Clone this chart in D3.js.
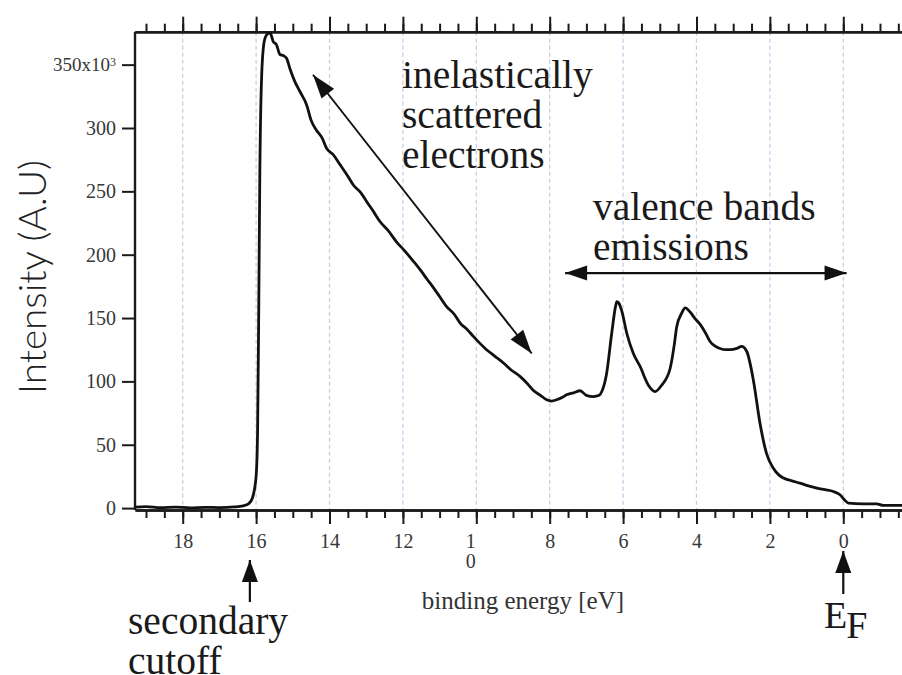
<!DOCTYPE html>
<html>
<head>
<meta charset="utf-8">
<script src="https://cdn.jsdelivr.net/npm/d3@7"></script>
<style>
  body { margin: 0; background: #fff; }
  svg { display: block; }
</style>
</head>
<body>
<div id="chart"></div>
<script>
// binding energy (eV) and intensity (x10^3)
let energy = [19.3, 19.0, 18.6, 18.2, 17.8, 17.4, 17.0, 16.6, 16.35, 16.2, 16.1, 16.0, 15.96, 15.93, 15.9,
  15.85, 15.78, 15.7, 15.62, 15.53, 15.45, 15.35, 15.25, 15.17, 15.08, 14.95, 14.81, 14.62, 14.5, 14.35,
  14.2, 14.08, 13.9, 13.71, 13.5, 13.35, 13.15, 12.99, 12.8, 12.62, 12.4, 12.17, 11.95, 11.72, 11.5,
  11.35, 11.17, 11.0, 10.81, 10.6, 10.44, 10.25, 10.08, 9.9, 9.72, 9.5, 9.26, 9.05, 8.81, 8.6,
  8.45, 8.25, 8.08, 7.95, 7.81, 7.65, 7.54, 7.35, 7.17, 7.0, 6.81, 6.65, 6.58, 6.45, 6.31,
  6.2, 6.17, 6.12, 6.04, 5.9, 5.72, 5.54, 5.31, 5.13, 4.95, 4.72, 4.6, 4.54, 4.4, 4.31,
  4.18, 4.05, 3.9, 3.75, 3.63, 3.5, 3.36, 3.2, 3.09, 2.9, 2.77, 2.63, 2.45, 2.27, 2.09,
  1.91, 1.75, 1.63, 1.4, 1.18, 0.95, 0.72, 0.5, 0.27, 0.09, -0.05, -0.14, -0.54, -0.91, -1.09, -1.6];
let intensity = [0.8, 1.2, 0.3, 0.8, 0.2, 0.6, 0.4, 0.9, 1.8, 3.5, 8, 25, 60, 150, 260,
  340, 368, 374, 375, 368, 366, 358, 357, 355, 347, 337, 329, 318, 306, 298,
  292, 284, 279, 271, 262, 255, 249, 242, 234, 226, 219, 210, 203, 195, 187,
  181, 174, 167, 159, 153, 146, 141, 135.5, 130, 125, 120, 114.5, 109, 104, 98,
  93, 89, 85.5, 84.5, 85.5, 87.5, 89.4, 91, 92.6, 89, 88, 89, 92, 106, 138,
  160, 163, 162, 156, 138, 122, 112, 97, 92, 97, 110, 130, 143, 154, 158,
  155, 150, 145, 138, 131.5, 128, 126, 125, 125, 126, 127.6, 123.6, 101, 67, 43,
  31.6, 26, 23.7, 21.5, 19.7, 17.5, 15.8, 14.5, 13.1, 10.5, 6, 3.9, 3.4, 3.4, 2.1, 2.1];

let xMajor = [18, 16, 14, 12, 10, 8, 6, 4, 2, 0];
let xMinor = d3.range(-1.5, 19.01, 0.5);
let yTicks = [0, 50, 100, 150, 200, 250, 300, 350];

let width = 902;
let height = 675;
let plot = {left: 135, right: 902, top: 31.7, bottom: 510};

let serif = "'Liberation Serif', 'Times New Roman', serif";

let svg = d3.select("#chart").append("svg")
  .attr("width", width)
  .attr("height", height);

let x = d3.scaleLinear().domain([19.3, -1.6]).range([plot.left, plot.right]);
let y = d3.scaleLinear().domain([-1.5, 376]).range([plot.bottom, plot.top]);

// dashed grid at major energies
svg.append("g")
  .selectAll("line")
  .data(xMajor)
  .join("line")
  .attr("x1", d => x(d))
  .attr("x2", d => x(d))
  .attr("y1", plot.top)
  .attr("y2", plot.bottom)
  .attr("stroke", "#c6c9e8")
  .attr("stroke-width", 1.2)
  .attr("stroke-dasharray", "4,3");

function styleAxis(g) {
  g.select(".domain").attr("stroke", "#1a1a1a").attr("stroke-width", 2.4);
  g.selectAll(".tick line").attr("stroke", "#1a1a1a").attr("stroke-width", 2);
  g.selectAll(".tick text")
    .attr("fill", "#383838")
    .style("font-family", serif)
    .style("font-size", "20px");
}

// minor ticks (top and bottom)
let minorTop = svg.append("g")
  .attr("transform", `translate(0,${plot.top})`)
  .call(d3.axisTop(x).tickValues(xMinor).tickSize(8).tickSizeOuter(0).tickFormat(""));
styleAxis(minorTop);

let minorBottom = svg.append("g")
  .attr("transform", `translate(0,${plot.bottom})`)
  .call(d3.axisBottom(x).tickValues(xMinor).tickSize(8).tickSizeOuter(0).tickFormat(""));
styleAxis(minorBottom);

// major ticks
let topAxis = svg.append("g")
  .attr("transform", `translate(0,${plot.top})`)
  .call(d3.axisTop(x).tickValues(xMajor).tickSize(15).tickSizeOuter(0).tickFormat(""));
styleAxis(topAxis);

let bottomAxis = svg.append("g")
  .attr("transform", `translate(0,${plot.bottom})`)
  .call(d3.axisBottom(x).tickValues(xMajor).tickSize(14).tickSizeOuter(0).tickPadding(10).tickFormat(d3.format("d")));
styleAxis(bottomAxis);

// the "10" label is wrapped onto two lines in the original
bottomAxis.selectAll(".tick text")
  .filter(d => d === 10)
  .text(null)
  .call(t => {
    t.append("tspan").attr("x", -6).attr("dy", "0.71em").text("1");
    t.append("tspan").attr("x", -6).attr("dy", "1.0em").text("0");
  });

let leftAxis = svg.append("g")
  .attr("transform", `translate(${plot.left},0)`)
  .call(d3.axisLeft(y).tickValues(yTicks).tickSize(13).tickSizeOuter(0).tickPadding(6).tickFormat(d3.format("d")));
styleAxis(leftAxis);
leftAxis.select(".domain").attr("d", `M0,${plot.top}V${plot.bottom}`);

leftAxis.selectAll(".tick text")
  .filter(d => d === 350)
  .text(null)
  .style("font-size", "19px")
  .call(t => {
    t.append("tspan").text("350x10");
    t.append("tspan").attr("dy", "-0.45em").style("font-size", "12px").text("3");
  });

// spectrum
let line = d3.line()
  .x(d => x(d[0]))
  .y(d => y(d[1]))
  .curve(d3.curveMonotoneX);

svg.append("path")
  .datum(d3.zip(energy, intensity))
  .attr("d", line)
  .attr("fill", "none")
  .attr("stroke", "#111")
  .attr("stroke-width", 2.8)
  .attr("stroke-linejoin", "round");

// axis titles
svg.append("text")
  .attr("x", x(8.73))
  .attr("y", 609)
  .attr("text-anchor", "middle")
  .attr("fill", "#333")
  .style("font-family", serif)
  .style("font-size", "25px")
  .text("binding energy [eV]");

svg.append("text")
  .attr("transform", "translate(46,277) rotate(-90)")
  .attr("text-anchor", "middle")
  .attr("fill", "#222")
  .attr("textLength", 234)
  .attr("lengthAdjust", "spacingAndGlyphs")
  .style("font-family", "Lato, 'DejaVu Sans', sans-serif")
  .style("font-weight", 300)
  .style("font-size", "37px")
  .text("Intensity (A.U)");

// annotations
function arrowHead(g, x0, y0, x1, y1, len, half) {
  let a = Math.atan2(y1 - y0, x1 - x0);
  let bx = x1 - len * Math.cos(a), by = y1 - len * Math.sin(a);
  let px = -Math.sin(a) * half, py = Math.cos(a) * half;
  g.append("path")
    .attr("d", `M${x1},${y1}L${bx + px},${by + py}L${bx - px},${by - py}Z`)
    .attr("fill", "#111");
}

function arrow(from, to, opts) {
  let g = svg.append("g");
  let x0 = from[0], y0 = from[1], x1 = to[0], y1 = to[1];
  g.append("line")
    .attr("x1", x0).attr("y1", y0).attr("x2", x1).attr("y2", y1)
    .attr("stroke", "#111")
    .attr("stroke-width", opts.w);
  arrowHead(g, x0, y0, x1, y1, opts.len, opts.half);
  if (opts.both) arrowHead(g, x1, y1, x0, y0, opts.len, opts.half);
}

arrow([x(14.45), y(342)], [x(8.49), y(122)], {w: 1.9, len: 24, half: 8, both: true});
arrow([x(7.58), y(185.5)], [x(-0.09), y(185.5)], {w: 2.2, len: 22, half: 7.5, both: true});
arrow([x(16.17), 602], [x(16.17), 560], {w: 2.2, len: 22, half: 8, both: false});
arrow([x(0), 594], [x(0), 551], {w: 2.2, len: 22, half: 8, both: false});

function label(lines, px, py, dy) {
  let t = svg.append("text")
    .attr("fill", "#1a1a1a")
    .style("font-family", serif)
    .style("font-size", "39.5px");
  lines.forEach((s, i) => {
    t.append("tspan").attr("x", px).attr("y", py + i * dy).text(s);
  });
}

label(["inelastically", "scattered", "electrons"], 402, 88, 40);
label(["valence bands", "emissions"], 593, 220, 39.5);
label(["secondary", "cutoff"], 128, 634, 40);

let ef = svg.append("text")
  .attr("x", 824)
  .attr("y", 628)
  .attr("fill", "#1a1a1a")
  .style("font-family", serif)
  .style("font-size", "38px");
ef.append("tspan").text("E");
ef.append("tspan").attr("dy", 10).attr("dx", -1).text("F");
</script>
</body>
</html>
